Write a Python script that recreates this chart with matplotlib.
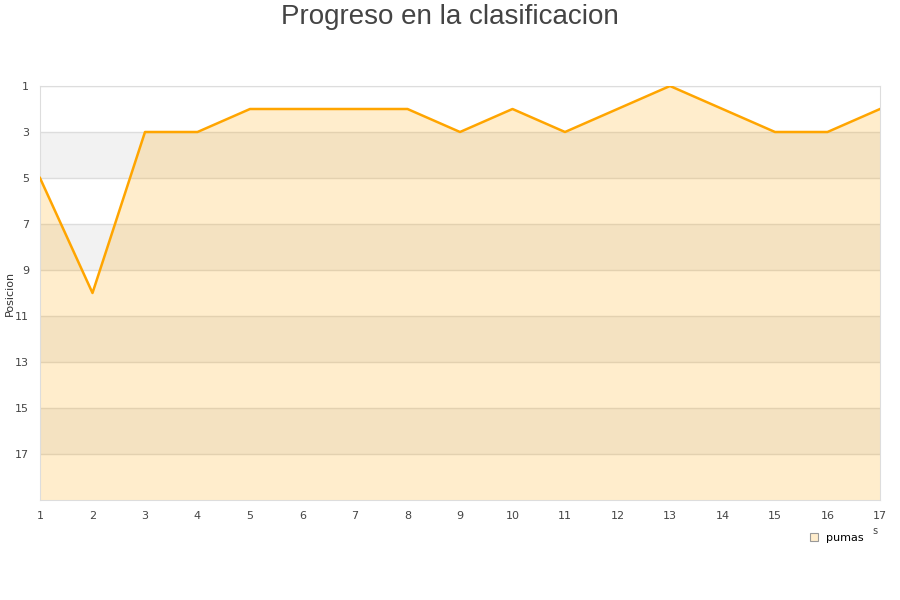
import numpy as np
import matplotlib.pyplot as plt

jornadas = list(range(1, 18))
posicion = [5, 10, 3, 3, 2, 2, 2, 2, 3, 2, 3, 2, 1, 2, 3, 3, 2]
y_ticks = list(range(1, 19, 2))

fig = plt.figure(figsize=(9, 6), dpi=100)
ax = fig.add_axes([40 / 900, 100 / 600, 840 / 900, 414 / 600])

# bandas alternas de fondo
for i, t in enumerate(y_ticks):
    if i % 2 == 1:
        ax.axhspan(t, t + 2, color='#f2f2f2', zorder=0, lw=0)
    ax.axhline(t, color='#dddddd', lw=1, zorder=1)

ax.fill_between(jornadas, posicion, 19, color='#ffa500', alpha=0.2, lw=0, zorder=2)
ax.plot(jornadas, posicion, color='#ffa500', lw=1.8, zorder=3)

ax.set_xlim(1, 17)
ax.set_ylim(19, 1)
ax.set_xticks(jornadas)
ax.set_yticks(y_ticks)
ax.tick_params(axis='x', length=0, labelsize=8, colors='#444444', pad=8)
ax.tick_params(axis='y', length=0, labelsize=8, colors='#444444', pad=8)
for s in ax.spines.values():
    s.set_color('#dddddd')
ax.set_ylabel('Posicion', fontsize=8, color='#333333')
ax.yaxis.set_label_coords(-0.03, 0.5)

fig.suptitle('Progreso en la clasificacion', fontsize=20, color='#444444', y=0.993,
             family='Liberation Sans')

leg = ax.legend([plt.Rectangle((0, 0), 1, 1, fc='#ffedcc', ec='#999999', lw=0.8)], ['pumas'],
                loc='upper right', bbox_to_anchor=(0.993, -0.055), frameon=False, fontsize=8,
                handlelength=0.7, handleheight=0.7, handletextpad=0.8)
fig.text(875 / 900, 1 - 531 / 600, 's', fontsize=7, color='#444444', ha='center', va='center')

fig.savefig('out.png')
